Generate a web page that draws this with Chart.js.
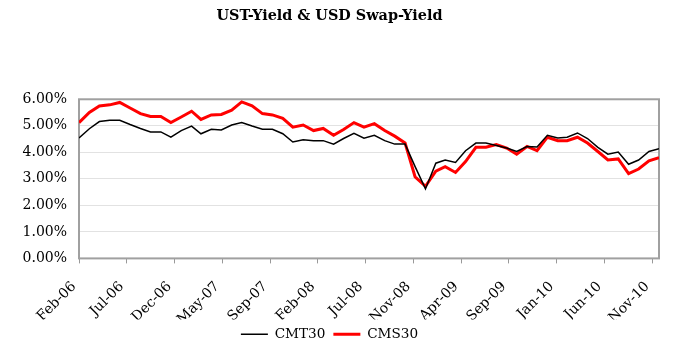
<!DOCTYPE html>
<html>
<head>
<meta charset="utf-8">
<script src="https://cdn.jsdelivr.net/npm/chart.js@4/dist/chart.umd.min.js"></script>
<style>
  html, body { margin: 0; padding: 0; background: #fff; }
  #wrap { width: 680px; height: 351px; }
</style>
</head>
<body>
<div id="wrap"><canvas id="chart"></canvas></div>
<script>
'use strict';

// month-end observations, Feb-06 .. Nov-10
let firstYear = 2006;
let firstMonth = 1; // Feb (0-based)

let cmt30 = [
  4.54, 4.89, 5.16, 5.21, 5.21, 5.05, 4.90, 4.77, 4.77, 4.57,
  4.82, 4.99, 4.70, 4.87, 4.84, 5.03, 5.12, 4.99, 4.87, 4.87,
  4.70, 4.39, 4.47, 4.44, 4.44, 4.31, 4.52, 4.72, 4.53, 4.64,
  4.44, 4.31, 4.31, 3.46, 2.62, 3.59, 3.71, 3.62, 4.06, 4.35,
  4.35, 4.26, 4.16, 4.03, 4.22, 4.20, 4.64, 4.54, 4.57, 4.73,
  4.52, 4.19, 3.93, 4.01, 3.55, 3.71, 4.03, 4.14
];

let cms30 = [
  5.12, 5.50, 5.75, 5.79, 5.88, 5.67, 5.46, 5.35, 5.35, 5.12,
  5.33, 5.55, 5.24, 5.41, 5.43, 5.59, 5.90, 5.75, 5.46, 5.41,
  5.28, 4.95, 5.03, 4.82, 4.90, 4.64, 4.86, 5.12, 4.95, 5.08,
  4.82, 4.61, 4.35, 3.07, 2.72, 3.29, 3.46, 3.24, 3.65, 4.19,
  4.19, 4.29, 4.16, 3.93, 4.22, 4.06, 4.57, 4.44, 4.44, 4.57,
  4.35, 4.03, 3.71, 3.75, 3.20, 3.37, 3.68, 3.80
];

// date axis: a label every 143 days from the first date
let tickLabels = ['Feb-06', 'Jul-06', 'Dec-06', 'May-07', 'Sep-07', 'Feb-08', 'Jul-08',
  'Nov-08', 'Apr-09', 'Sep-09', 'Jan-10', 'Jun-10', 'Nov-10'];
let tickStepDays = 143;

let yTicks = [0, 1, 2, 3, 4, 5, 6];

// days since first observation
let dayMs = 86400000;
let startDate = Date.UTC(firstYear, firstMonth + 1, 0);
let days = cmt30.map((v, i) => Math.round((Date.UTC(firstYear, firstMonth + i + 1, 0) - startDate) / dayMs));

function toPoints(values) {
  return values.map((v, i) => ({ x: days[i], y: v }));
}

Chart.defaults.font.family = "'DejaVu Serif', serif";
Chart.defaults.font.size = 14;
Chart.defaults.color = '#000';

let plotBorder = {
  id: 'plotBorder',
  beforeDatasetsDraw(chart) {
    let a = chart.chartArea;
    let ctx = chart.ctx;
    ctx.save();
    ctx.strokeStyle = '#a0a0a0';
    ctx.lineWidth = 2;
    ctx.strokeRect(a.left, a.top, a.right - a.left, a.bottom - a.top);
    ctx.restore();
  }
};

let ctx = document.getElementById('chart').getContext('2d');
new Chart(ctx, {
  type: 'line',
  data: {
    datasets: [
      {
        label: 'CMT30',
        data: toPoints(cmt30),
        borderColor: '#000000',
        backgroundColor: '#000000',
        borderWidth: 1.5,
        pointRadius: 0,
        pointStyle: 'line',
        tension: 0
      },
      {
        label: 'CMS30',
        data: toPoints(cms30),
        borderColor: '#ff0000',
        backgroundColor: '#ff0000',
        borderWidth: 3,
        pointRadius: 0,
        pointStyle: 'line',
        tension: 0
      }
    ]
  },
  options: {
    responsive: true,
    maintainAspectRatio: false,
    animation: false,
    layout: { padding: { left: 0, right: 21, top: 0, bottom: 0 } },
    plugins: {
      title: {
        display: true,
        text: 'UST-Yield & USD Swap-Yield',
        font: { size: 14.4, weight: 'bold' },
        padding: { top: 8, bottom: 74 }
      },
      legend: {
        position: 'bottom',
        labels: {
          usePointStyle: true,
          pointStyleWidth: 27,
          padding: 8,
          boxHeight: 14,
          font: { size: 13.6 }
        }
      },
      tooltip: { enabled: false }
    },
    scales: {
      x: {
        type: 'linear',
        min: 0,
        max: days[days.length - 1],
        afterBuildTicks: scale => {
          scale.ticks = tickLabels.map((t, i) => ({ value: i * tickStepDays }));
        },
        afterFit: scale => { scale.height = 61; },
        ticks: {
          autoSkip: false,
          minRotation: 45,
          maxRotation: 45,
          padding: 15,
          labelOffset: -5,
          callback: (v, i) => tickLabels[i]
        },
        grid: {
          drawOnChartArea: false,
          drawTicks: true,
          tickLength: 5,
          color: '#999'
        },
        border: { display: false }
      },
      y: {
        min: 0,
        max: 6,
        afterBuildTicks: scale => {
          scale.ticks = yTicks.map(v => ({ value: v }));
        },
        afterFit: scale => { scale.width = 79; },
        ticks: {
          padding: 12,
          callback: v => v.toFixed(2) + '%'
        },
        grid: {
          drawTicks: false,
          color: '#e2e2e2'
        },
        border: { display: false }
      }
    }
  },
  plugins: [plotBorder]
});
</script>
</body>
</html>
